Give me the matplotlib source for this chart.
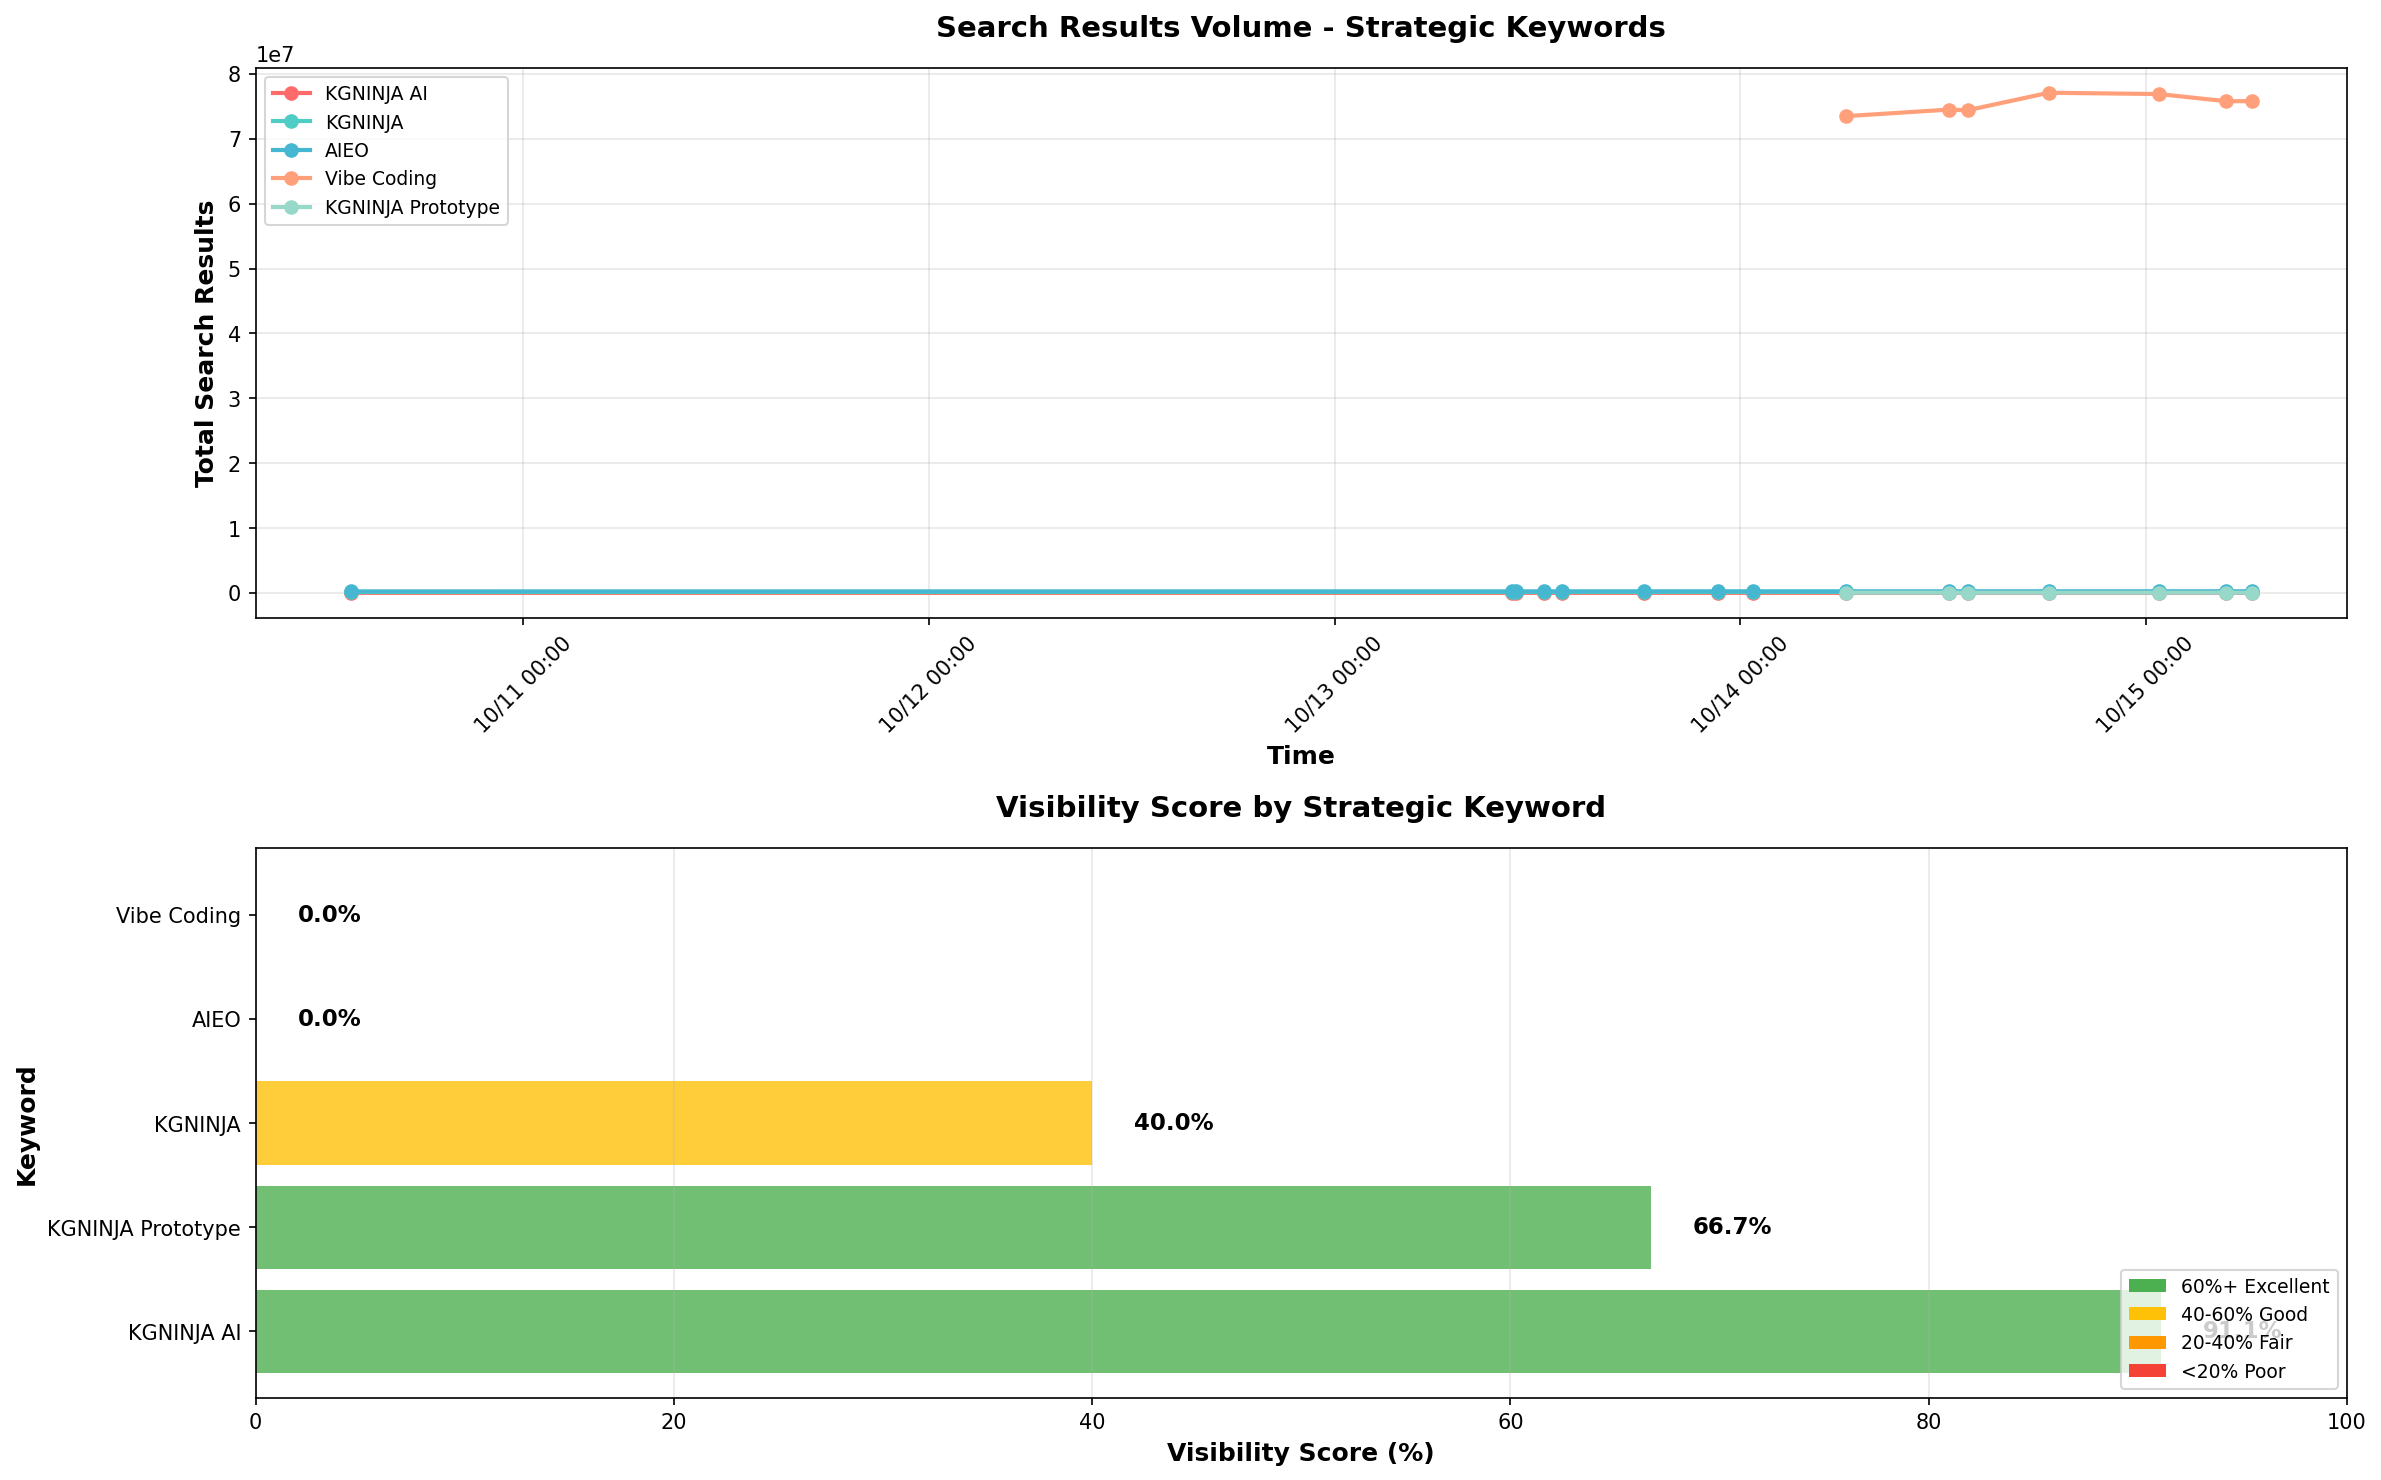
import matplotlib
matplotlib.use("Agg")
import matplotlib.pyplot as plt
import matplotlib.dates as mdates
from matplotlib.patches import Patch
import pandas as pd

# search results over time (values near zero are hidden under the AIEO line)
times_early = ["2025-10-10 13:48", "2025-10-13 10:30", "2025-10-13 10:45", "2025-10-13 12:22",
               "2025-10-13 13:29", "2025-10-13 18:17", "2025-10-13 22:40", "2025-10-14 00:44"]
times_late = ["2025-10-14 06:17", "2025-10-14 12:20", "2025-10-14 13:27", "2025-10-14 18:15",
              "2025-10-15 00:46", "2025-10-15 04:44", "2025-10-15 06:16"]

kgninja_ai_vals = [18000, 19000, 19000, 19500, 19500, 20000, 20500, 21000,
                   21000, 21500, 21500, 22000, 22000, 22500, 22500]
kgninja_vals = [150000, 152000, 152000, 153000, 153000, 155000, 156000, 157000,
                158000, 159000, 159000, 160000, 161000, 161000, 162000]
aieo_vals = [240000, 245000, 245000, 248000, 248000, 250000, 252000, 253000,
             255000, 256000, 256000, 258000, 259000, 259000, 260000]
vibe_vals = [73.5e6, 74.5e6, 74.4e6, 77.1e6, 76.9e6, 75.8e6, 75.8e6]
prototype_vals = [48000, 49000, 49000, 50000, 50000, 51000, 51000]

# visibility scores
keywords = ["KGNINJA AI", "KGNINJA Prototype", "KGNINJA", "AIEO", "Vibe Coding"]
scores = [91.1, 66.7, 40.0, 0.0, 0.0]

all_times = pd.to_datetime(times_early + times_late)
late_times = pd.to_datetime(times_late)

series = [
    ("KGNINJA AI", all_times, kgninja_ai_vals, "#FF6B6B"),
    ("KGNINJA", all_times, kgninja_vals, "#4ECDC4"),
    ("AIEO", all_times, aieo_vals, "#45B7D1"),
    ("Vibe Coding", late_times, vibe_vals, "#FFA07A"),
    ("KGNINJA Prototype", late_times, prototype_vals, "#98D8C8"),
]


def score_color(s):
    if s >= 60:
        return "#4CAF50"
    if s >= 40:
        return "#FFC107"
    if s >= 20:
        return "#FF9800"
    return "#F44336"


fig, (ax1, ax2) = plt.subplots(2, 1, figsize=(16, 10))

for name, t, v, c in series:
    ax1.plot(t, v, marker="o", linewidth=2, markersize=6, label=name, color=c)

ax1.set_title("Search Results Volume - Strategic Keywords", fontsize=14, fontweight="bold", pad=15)
ax1.set_xlabel("Time", fontsize=12, fontweight="bold")
ax1.set_ylabel("Total Search Results", fontsize=12, fontweight="bold")
ax1.xaxis.set_major_locator(mdates.DayLocator())
ax1.xaxis.set_major_formatter(mdates.DateFormatter("%m/%d %H:%M"))
plt.setp(ax1.get_xticklabels(), rotation=45)
ax1.legend(loc="upper left", fontsize=9)
ax1.grid(True, alpha=0.3)

colors = [score_color(s) for s in scores]
ax2.barh(keywords, scores, color=colors, alpha=0.8)
for i, s in enumerate(scores):
    ax2.text(s + 2, i, f"{s:.1f}%", va="center", fontweight="bold", fontsize=11)
ax2.set_xlim(0, 100)
ax2.set_title("Visibility Score by Strategic Keyword", fontsize=14, fontweight="bold", pad=15)
ax2.set_xlabel("Visibility Score (%)", fontsize=12, fontweight="bold")
ax2.set_ylabel("Keyword", fontsize=12, fontweight="bold")
ax2.grid(True, axis="x", alpha=0.3)
legend_items = [
    Patch(facecolor="#4CAF50", label="60%+ Excellent"),
    Patch(facecolor="#FFC107", label="40-60% Good"),
    Patch(facecolor="#FF9800", label="20-40% Fair"),
    Patch(facecolor="#F44336", label="<20% Poor"),
]
ax2.legend(handles=legend_items, loc="lower right", fontsize=9)

plt.tight_layout()
plt.savefig("out.png", dpi=150, bbox_inches="tight")
